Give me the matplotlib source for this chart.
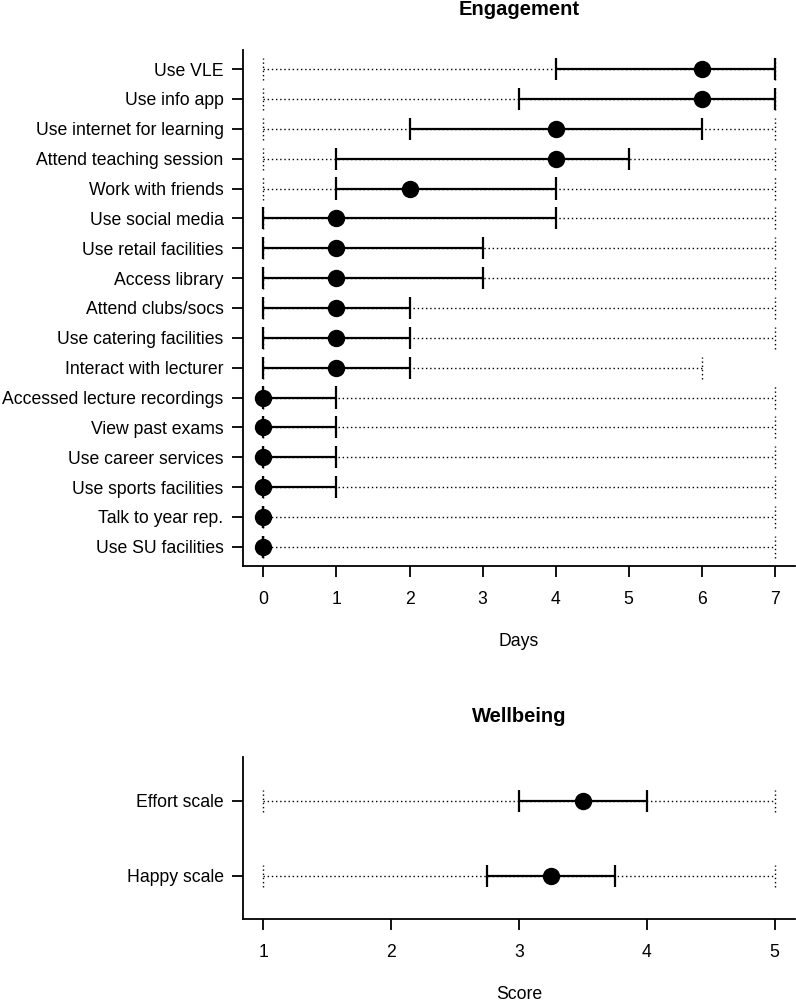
import numpy as np
import matplotlib
matplotlib.use("Agg")
import matplotlib.pyplot as plt

plt.rcParams['font.family'] = ['Liberation Sans', 'DejaVu Sans']

# Engagement items, top to bottom: min, lower quartile, median, upper quartile, max (days)
eng_labels = ["Use VLE", "Use info app", "Use internet for learning", "Attend teaching session",
              "Work with friends", "Use social media", "Use retail facilities", "Access library",
              "Attend clubs/socs", "Use catering facilities", "Interact with lecturer",
              "Accessed lecture recordings", "View past exams", "Use career services",
              "Use sports facilities", "Talk to year rep.", "Use SU facilities"]
eng_min = [0, 0, 0, 0, 0, 0, 0, 0, 0, 0, 0, 0, 0, 0, 0, 0, 0]
eng_q1 = [4, 3.5, 2, 1, 1, 0, 0, 0, 0, 0, 0, 0, 0, 0, 0, 0, 0]
eng_med = [6, 6, 4, 4, 2, 1, 1, 1, 1, 1, 1, 0, 0, 0, 0, 0, 0]
eng_q3 = [7, 7, 6, 5, 4, 4, 3, 3, 2, 2, 2, 1, 1, 1, 1, 0, 0]
eng_max = [7, 7, 7, 7, 7, 7, 7, 7, 7, 7, 6, 7, 7, 7, 7, 7, 7]
eng_ticks = [0, 1, 2, 3, 4, 5, 6, 7]

# Wellbeing scales, top to bottom
wb_labels = ["Effort scale", "Happy scale"]
wb_min = [1, 1]
wb_q1 = [3, 2.75]
wb_med = [3.5, 3.25]
wb_q3 = [4, 3.75]
wb_max = [5, 5]
wb_ticks = [1, 2, 3, 4, 5]

FS = 12.7


def draw_panel(ax, labels, mins, q1s, meds, q3s, maxs, ticks, cap, title, xlabel, xlim, ylim):
    n = len(labels)
    ys = np.arange(n, 0, -1)
    for y, lo, a, m, b, hi in zip(ys, mins, q1s, meds, q3s, maxs):
        # full range, dotted
        ax.plot([lo, hi], [y, y], color="black", lw=1.0, linestyle=(0, (1, 2)), zorder=1)
        ax.vlines([lo, hi], y - cap, y + cap, color="black", lw=1.0, linestyles=[(0, (1, 2))], zorder=1)
        # interquartile range, solid
        ax.plot([a, b], [y, y], color="black", lw=1.6, zorder=2, solid_capstyle="butt")
        ax.vlines([a, b], y - cap, y + cap, color="black", lw=1.6, zorder=2)
        ax.plot([m], [y], "o", color="black", ms=11.5, zorder=3)
    ax.set_xlim(*xlim)
    ax.set_ylim(*ylim)
    ax.set_yticks(ys)
    ax.set_yticklabels(labels, fontsize=FS)
    ax.set_xticks(ticks)
    ax.set_xticklabels([str(t) for t in ticks], fontsize=FS)
    for s in ["top", "right"]:
        ax.spines[s].set_visible(False)
    for s in ["left", "bottom"]:
        ax.spines[s].set_linewidth(1.3)
    ax.tick_params(axis="x", length=8, width=1.3, pad=10)
    ax.tick_params(axis="y", length=8, width=1.3, pad=6)
    ax.annotate(title, xy=(0.5, 1), xycoords="axes fraction", xytext=(0, 25),
                textcoords="offset points", ha="center", va="baseline",
                fontsize=14.5, fontweight="bold")
    ax.annotate(xlabel, xy=(0.5, 0), xycoords="axes fraction", xytext=(0, -57.5),
                textcoords="offset points", ha="center", va="baseline", fontsize=FS)


fig = plt.figure(figsize=(7.96, 10.01), dpi=100)
ax1 = fig.add_axes([0.3053, 0.4346, 0.6935, 0.5155])
ax2 = fig.add_axes([0.3053, 0.0819, 0.6935, 0.1618])

draw_panel(ax1, eng_labels, eng_min, eng_q1, eng_med, eng_q3, eng_max, eng_ticks, 0.37,
           "Engagement", "Days", (-0.28, 7.28), (0.36, 17.64))
draw_panel(ax2, wb_labels, wb_min, wb_q1, wb_med, wb_q3, wb_max, wb_ticks, 0.147,
           "Wellbeing", "Score", (0.84, 5.16), (0.42, 2.58))

fig.savefig("out.png", dpi=100)
